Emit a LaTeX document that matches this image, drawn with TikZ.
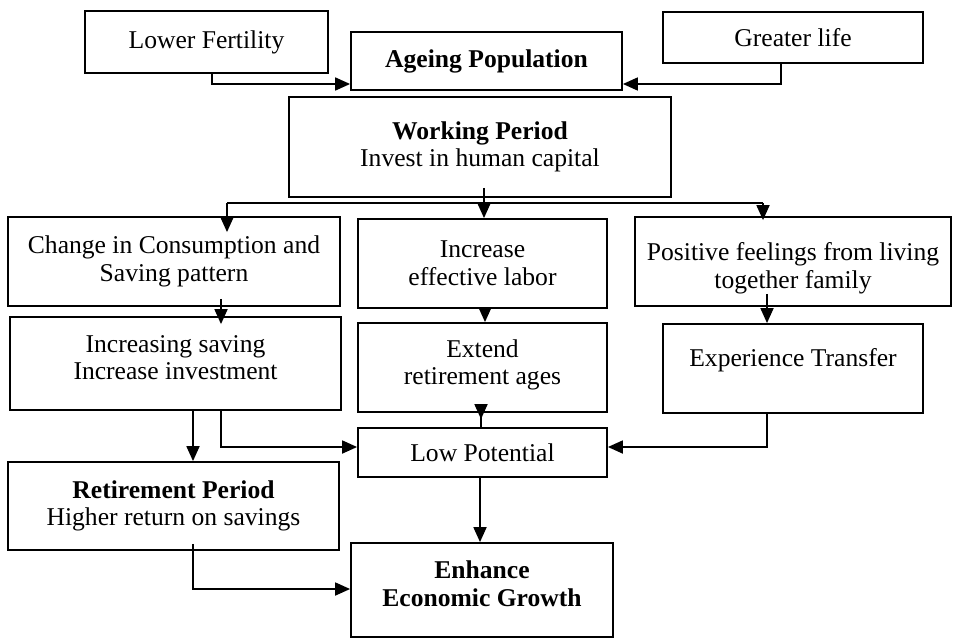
\documentclass[tikz,border=0pt]{standalone}
\usepackage{fontspec}
\setmainfont{Liberation Serif}
\usetikzlibrary{arrows.meta}

\begin{document}
\begin{tikzpicture}[x=0.5pt, y=-0.5pt,
  box/.style={draw, line width=0.9pt, align=center, inner sep=2pt,
    font=\fontsize{12.8}{13.8}\selectfont},
  lift/.style={text depth=#1},
  arr/.style={-{Triangle[length=7.5pt, width=6.5pt]}, line width=0.9pt},
  link/.style={line width=0.9pt}]
  \useasboundingbox (0,0) rectangle (961,642);

  % Causes
  \node[box, minimum width=121.5pt, minimum height=31pt] (fert) at (206.5,42) {Lower Fertility};
  \node[box, minimum width=135.5pt, minimum height=29pt] (ageing) at (486.5,61) {\textbf{Ageing Population}};
  \node[box, minimum width=130pt, minimum height=25.5pt] (life) at (793,37.5) {Greater life};

  % Working period
  \node[box, minimum width=191pt, minimum height=50pt] (work) at (480,147)
    {\textbf{Working Period}\\Invest in human capital};

  % Effects
  \node[box, minimum width=166pt, minimum height=44.5pt] (cons) at (174,261.5)
    {Change in Consumption and\\Saving pattern};
  \node[box, minimum width=124.5pt, minimum height=44.5pt] (labor) at (482.5,263.5)
    {Increase\\effective labor};
  \node[box, minimum width=158pt, minimum height=44.5pt] (feel) at (793,261.5)
    {\rule{0pt}{15.7pt}Positive feelings from living\\together family};
  \node[box, lift=6pt, minimum width=165.5pt, minimum height=46.5pt] (saving) at (175.5,363.5)
    {Increasing saving\\Increase investment};
  \node[box, lift=5.3pt, minimum width=124.5pt, minimum height=44.5pt] (extend) at (482.5,367.5)
    {Extend\\retirement ages};
  \node[box, lift=10.8pt, minimum width=130pt, minimum height=44.5pt] (exper) at (793,368.5)
    {Experience Transfer};
  \node[box, minimum width=124.5pt, minimum height=24.5pt] (lowpot) at (482.5,452.5)
    {Low Potential};

  % Outcomes
  \node[box, minimum width=165.5pt, minimum height=44pt] (retire) at (173.5,506)
    {\textbf{Retirement Period}\\Higher return on savings};
  \node[box, lift=6.6pt, minimum width=131pt, minimum height=47pt] (growth) at (482,590)
    {\textbf{Enhance}\\\textbf{Economic Growth}};

  % Arrows to ageing population
  \draw[arr] (fert.south -| 212,0) |- (ageing.west |- 0,84);
  \draw[arr] (life.south -| 781,0) |- (ageing.east |- 0,84);

  % Branches of working period
  \coordinate (fork) at (0,203);
  \draw[arr] (work.south -| 484,0) ++(0,-10) -- (labor.north -| 484,0);
  \draw[link] (fork -| 227,0) -- (fork -| 763,0);
  \draw[arr, shorten >=-8pt] (fork -| 227,0) -- (cons.north -| 227,0);
  \draw[arr, shorten >=-2pt] (fork -| 763,0) -- (feel.north -| 763,0);

  % Second row
  \draw[arr, shorten <=-4pt, shorten >=-4pt] (cons.south -| 221,0) -- (saving.north -| 221,0);
  \draw[arr] (labor.south -| 485,0) -- (extend.north -| 485,0);
  \draw[arr, shorten <=-6.5pt] (feel.south -| 767,0) -- (exper.north -| 767,0);

  % Towards low potential
  \draw[arr, shorten <=-7.5pt, shorten >=4pt] (extend.south -| 481,0) -- (lowpot.north -| 481,0);
  \draw[arr] (saving.south -| 221,0) |- (lowpot.west |- 0,447);
  \draw[arr] (exper.south -| 767,0) |- (lowpot.east |- 0,447);
  \draw[arr] (saving.south -| 193,0) -- (retire.north -| 193,0);

  % Growth
  \draw[arr] (lowpot.south -| 480,0) -- (growth.north -| 480,0);
  \draw[arr, shorten <=-3.5pt] (retire.south -| 193,0) |- (growth.west |- 0,589);

\end{tikzpicture}
\end{document}
